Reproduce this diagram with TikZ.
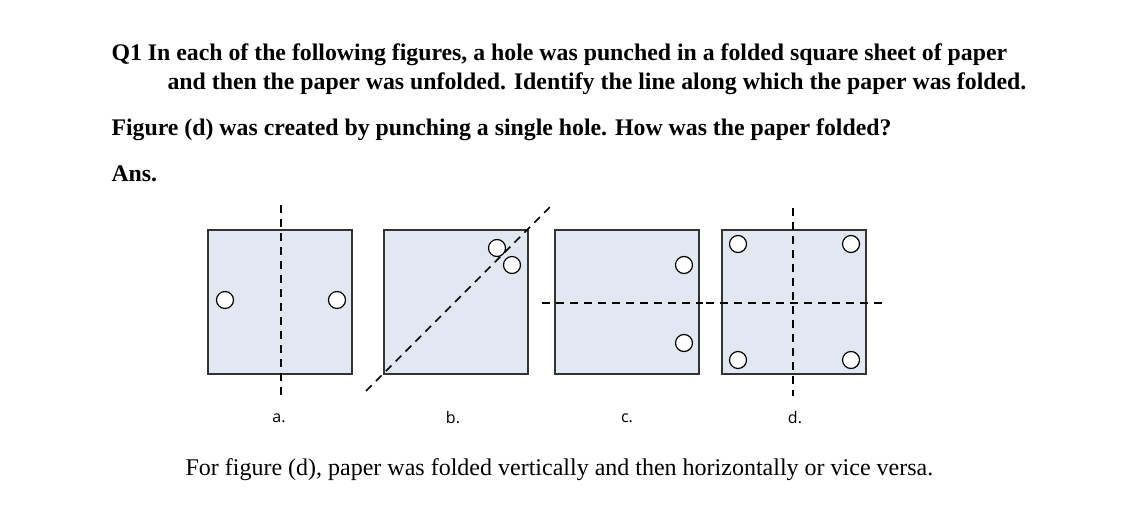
\documentclass[tikz,border=0pt]{standalone}
\usepackage{fontspec}
\setmainfont{Liberation Serif}
\newfontfamily\labelfont{Open Sans}
\definecolor{sheetfill}{HTML}{E2E8F1}
\begin{document}
\begin{tikzpicture}[x=1pt,y=-1pt,
        sheet/.style = {draw=black!80, line width=1.4pt, fill=sheetfill},
        hole/.style = {circle, draw=black, line width=1.2pt, fill=white, minimum size=17pt, inner sep=0pt},
        fold/.style = {line width=1.5pt, dash pattern=on 8pt off 6pt},
        lab/.style = {font=\labelfont\fontsize{16}{18}\selectfont},
        qtext/.style = {anchor=base west, font=\bfseries\fontsize{23.8}{28}\selectfont}
    ]
    \useasboundingbox (0,0) rectangle (1127,511);

    % question text
    \node[qtext] (q1) at (108,60)
        {Q1 In each of the following figures, a hole was punched in a folded square sheet of paper};
    \node[qtext] (q2) at (164,89)
        {and then the paper was unfolded. Identify the line along which the paper was folded.};
    \node[qtext] (q3) at (108,135)
        {Figure (d) was created by punching a single hole. How was the paper folded?};
    \node[qtext] (ans) at (108,181) {Ans.};

    % sheets
    \foreach \name/\x in {a/208, b/384, c/555, d/722}
        \draw[sheet] (\x,230) rectangle ++(144,144);

    % fold lines
    \coordinate (fa1) at (281,205); \coordinate (fa2) at (281,398);
    \draw[fold] (fa1) -- (fa2);
    \coordinate (fb1) at (366,391); \coordinate (fb2) at (552,205);
    \draw[fold] (fb1) -- (fb2);
    \coordinate (fc1) at (542,303); \coordinate (fc2) at (703,303);
    \draw[fold] (fc1) -- (fc2);
    \coordinate (fd1) at (706,303); \coordinate (fd2) at (882,303);
    \draw[fold] (fd1) -- (fd2);
    \coordinate (fd3) at (793,208); \coordinate (fd4) at (793,396);
    \draw[fold] (fd3) -- (fd4);

    % holes
    \node[hole] (ha1) at (225,300) {};
    \node[hole] (ha2) at (337,300) {};
    \node[hole] (hb1) at (497,248) {};
    \node[hole] (hb2) at (512,265) {};
    \node[hole] (hc1) at (684,265) {};
    \node[hole] (hc2) at (684,343) {};
    \node[hole] (hd1) at (738,244) {};
    \node[hole] (hd2) at (851,244) {};
    \node[hole] (hd3) at (738,360) {};
    \node[hole] (hd4) at (851,360) {};

    % labels
    \node[lab] (la) at (279,418) {a.};
    \node[lab] (lb) at (453,418) {b.};
    \node[lab] (lc) at (627,418) {c.};
    \node[lab] (ld) at (795,418) {d.};

    % answer
    \node[anchor=base west, font=\fontsize{24}{28}\selectfont] (answer) at (182,475)
        {For figure (d), paper was folded vertically and then horizontally or vice versa.};
\end{tikzpicture}
\end{document}
